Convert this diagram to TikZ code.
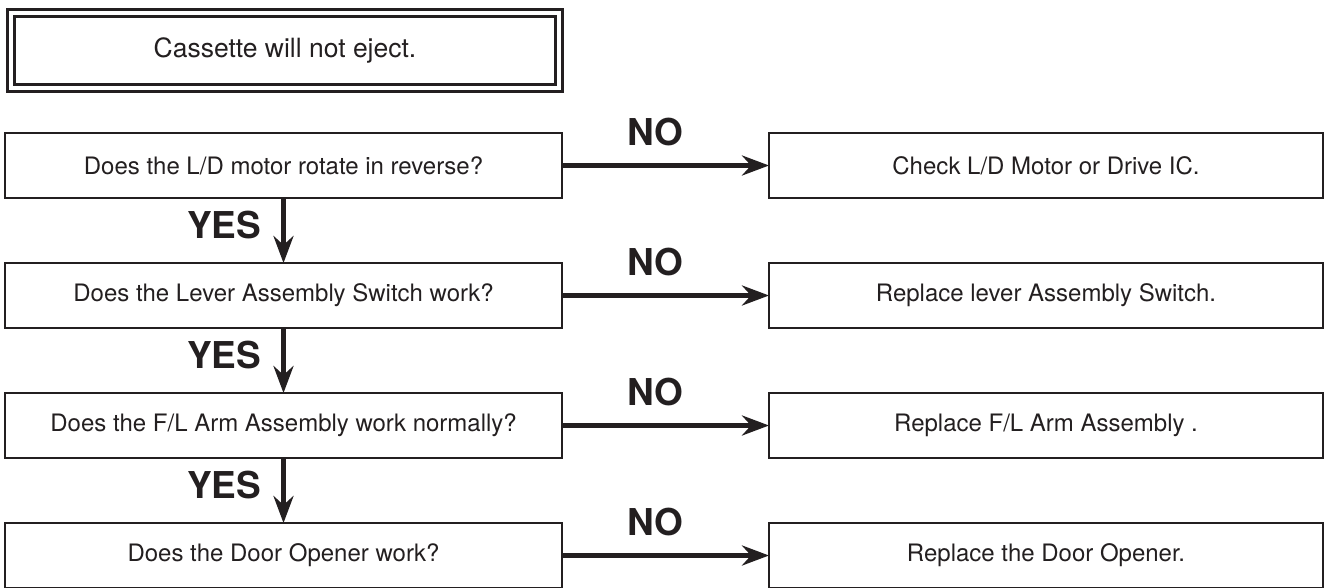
\documentclass[tikz,border=0pt]{standalone}
\usepackage{fontspec}
\setmainfont{TeX Gyre Heros}
\usetikzlibrary{arrows.meta, positioning}
\definecolor{ink}{RGB}{35,31,32}

\begin{document}
\begin{tikzpicture}[x=1pt, y=1pt, node distance=65pt, font=\fontsize{24}{28}\selectfont]
    \tikzstyle{question} = [rectangle, draw=ink, line width=2.2pt, minimum width=557pt, minimum height=65pt, outer sep=0pt, inner sep=0pt, text=ink]
    \tikzstyle{answer} = [question, minimum width=554pt]
    \tikzstyle{titlebox} = [rectangle, draw=ink, double, line width=3.2pt, double distance=4pt, minimum width=548pt, minimum height=75.5pt, text=ink, font=\fontsize{26.5}{30}\selectfont]
    \tikzstyle{arrow} = [line width=4.5pt, draw=ink, -{Stealth[length=27pt, width=20pt, inset=9pt]}]
    \tikzstyle{lbl} = [font=\fontsize{37}{40}\selectfont\bfseries, text=ink, inner sep=0pt]

    \useasboundingbox (0,0) rectangle (1325,-587);

    % Start
    \node (cass) [titlebox] at (285,-50.5) {Cassette will not eject.};

    % Questions
    \node (q1) [question] at (283.5,-165.5) {Does the L/D motor rotate in reverse?};
    \node (q2) [question, below=of q1] {Does the Lever Assembly Switch work?};
    \node (q3) [question, below=of q2] {Does the F/L Arm Assembly work normally?};
    \node (q4) [question, below=of q3] {Does the Door Opener work?};

    % Remedies
    \node (a1) [answer, right=207pt of q1] {Check L/D Motor or Drive IC.};
    \node (a2) [answer, right=207pt of q2] {Replace lever Assembly Switch.};
    \node (a3) [answer, right=207pt of q3] {Replace F/L Arm Assembly .};
    \node (a4) [answer, right=207pt of q4] {Replace the Door Opener.};

    % Connections
    \draw [arrow] (q1) -- node[lbl, pos=.45, above=17pt] {NO} (a1);
    \draw [arrow] (q2) -- node[lbl, pos=.45, above=17pt] {NO} (a2);
    \draw [arrow] (q3) -- node[lbl, pos=.45, above=17pt] {NO} (a3);
    \draw [arrow] (q4) -- node[lbl, pos=.45, above=17pt] {NO} (a4);
    \draw [arrow] (q1) -- node[lbl, pos=.415, left=20pt] {YES} (q2);
    \draw [arrow] (q2) -- node[lbl, pos=.415, left=20pt] {YES} (q3);
    \draw [arrow] (q3) -- node[lbl, pos=.415, left=20pt] {YES} (q4);
\end{tikzpicture}
\end{document}
